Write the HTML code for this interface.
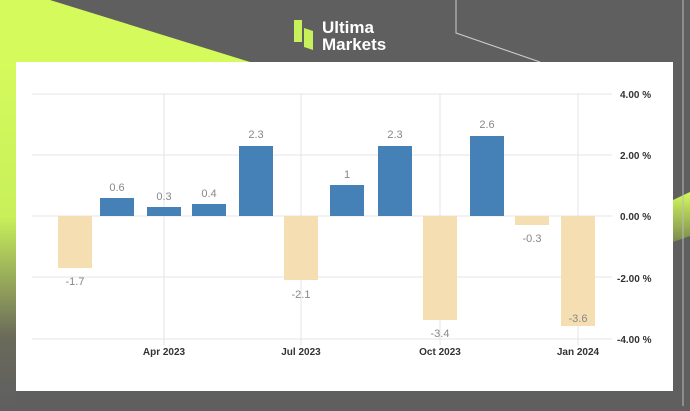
<!DOCTYPE html>
<html><head><style>
body{margin:0;width:690px;height:406px;overflow:hidden;background:#5f5f5f;font-family:"Liberation Sans",sans-serif;}
</style></head><body>
<svg width="690" height="406" viewBox="0 0 690 406" xmlns="http://www.w3.org/2000/svg">
<defs>
<linearGradient id="lg" x1="0" y1="0" x2="0" y2="1">
<stop offset="0" stop-color="#d4fa5c"/><stop offset="0.45" stop-color="#c8f05a"/><stop offset="0.8" stop-color="#6a6a5a"/><stop offset="1" stop-color="#5f5f5f"/>
</linearGradient>
<linearGradient id="rg" x1="0" y1="0" x2="0" y2="1">
<stop offset="0" stop-color="#d4fa5c"/><stop offset="1" stop-color="#7a8a50"/>
</linearGradient>
</defs>
<rect width="690" height="406" fill="#5f5f5f"/>
<polygon points="0,0 50,0 250,62 0,62" fill="#d4fa5c"/>
<rect x="0" y="62" width="16" height="344" fill="url(#lg)"/>
<polygon points="673,200 690,192 690,236 673,242" fill="url(#rg)"/>
<polyline points="456,0 456,33 540,62" fill="none" stroke="#cfcfcf" stroke-width="1"/>
<line x1="683" y1="0" x2="683" y2="406" stroke="#bbb" stroke-width="1"/>
<!-- logo -->
<rect x="294" y="20" width="8" height="22" fill="#c8f05a"/>
<polygon points="304,28 313,31 313,50 304,47" fill="#c8f05a"/>
<text x="322" y="33" font-size="17" font-weight="bold" fill="#fff">Ultima</text>
<text x="322" y="50" font-size="17" font-weight="bold" fill="#fff">Markets</text>
<rect x="16" y="62" width="657" height="329" fill="#fff"/>
<g stroke="#e4e4e4" stroke-width="1">
<line x1="32" y1="94" x2="612" y2="94"/><line x1="32" y1="155" x2="612" y2="155"/>
<line x1="32" y1="216" x2="612" y2="216"/><line x1="32" y1="277" x2="612" y2="277"/>
<line x1="32" y1="339" x2="612" y2="339"/>
<line x1="164" y1="94" x2="164" y2="345"/><line x1="301" y1="94" x2="301" y2="345"/>
<line x1="440" y1="94" x2="440" y2="345"/><line x1="578" y1="94" x2="578" y2="345"/>
</g>
<g fill="#4580b6">
<rect x="100" y="198" width="34" height="18"/>
<rect x="147" y="207" width="34" height="9"/>
<rect x="192" y="204" width="34" height="12"/>
<rect x="239" y="146" width="34" height="70"/>
<rect x="330" y="185" width="34" height="31"/>
<rect x="378" y="146" width="34" height="70"/>
<rect x="470" y="136" width="34" height="80"/>
</g>
<g fill="#f4deb2">
<rect x="58" y="216" width="34" height="52"/>
<rect x="284" y="216" width="34" height="64"/>
<rect x="423" y="216" width="34" height="104"/>
<rect x="515" y="216" width="34" height="9"/>
<rect x="561" y="216" width="34" height="110"/>
</g>
<g font-size="11" fill="#888" text-anchor="middle">
<text x="117" y="191">0.6</text><text x="164" y="200">0.3</text><text x="209" y="197">0.4</text>
<text x="256" y="138">2.3</text><text x="347" y="178">1</text><text x="395" y="138">2.3</text>
<text x="487" y="128">2.6</text>
<text x="75" y="285">-1.7</text><text x="301" y="298">-2.1</text><text x="440" y="337">-3.4</text>
<text x="532" y="242">-0.3</text><text x="578" y="322">-3.6</text>
</g>
<g font-size="10" fill="#333" font-weight="bold">
<text x="620" y="98">4.00 %</text><text x="620" y="159">2.00 %</text><text x="620" y="220">0.00 %</text>
<text x="617" y="282">-2.00 %</text><text x="617" y="343">-4.00 %</text>
</g>
<g font-size="10" fill="#333" font-weight="bold" text-anchor="middle">
<text x="164" y="355">Apr 2023</text><text x="301" y="355">Jul 2023</text>
<text x="440" y="355">Oct 2023</text><text x="578" y="355">Jan 2024</text>
</g>
</svg>
</body></html>
